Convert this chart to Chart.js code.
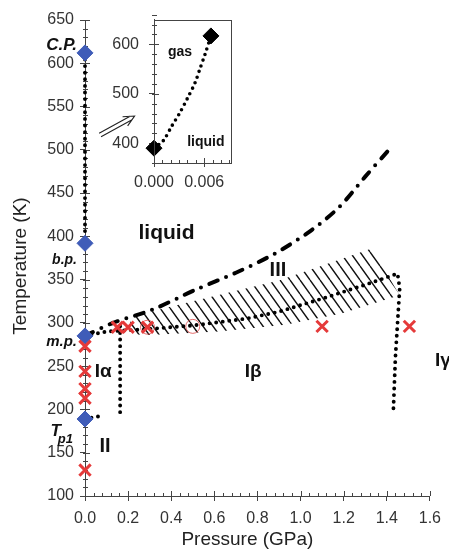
<!DOCTYPE html>
<html>
<head>
<meta charset="utf-8">
<script src="https://cdn.jsdelivr.net/npm/chart.js@4.4.1/dist/chart.umd.min.js"></script>
<style>
html, body { margin: 0; padding: 0; background: #fff; }
#wrap { position: relative; width: 449px; height: 559px; }
#main { position: absolute; left: 0; top: 0; }
#inset { position: absolute; left: 100px; top: 0; }
</style>
</head>
<body>
<div id="wrap">
  <canvas id="main" width="449" height="559"></canvas>
  <canvas id="inset" width="140" height="200"></canvas>
</div>
<script>
// ---- main diagram: pressure (GPa) vs temperature (K) ----
const xTicks = [0, 0.2, 0.4, 0.6, 0.8, 1.0, 1.2, 1.4, 1.6];
const yTicks = [100, 150, 200, 250, 300, 350, 400, 450, 500, 550, 600, 650];

// liquid/gas line along P = 0 (C.P. down to b.p.)
const vapourP = [0, 0];
const vapourT = [612, 392];

// melting curve (dash-dot)
const meltP = [0, 0.13, 0.31, 0.51, 0.70, 0.88, 1.05, 1.18, 1.30, 1.41];
const meltT = [285, 300, 315, 338, 358, 380, 407, 434, 469, 500];

// I-beta / III and I-beta / I-gamma boundary
const betaP = [0, 0.1, 0.3, 0.5, 0.75, 0.9, 1.1, 1.3, 1.45, 1.46, 1.455, 1.44, 1.43];
const betaT = [285, 290, 293, 297, 305, 313, 328, 344, 357, 340, 320, 260, 195];

// I-alpha / I-beta boundary
const alphaP = [0.163, 0.163];
const alphaT = [296, 196];

// short line from Tp1
const twoP = [0, 0.04, 0.09];
const twoT = [189, 191, 193];

// outline of hatched phase III region
const hatchP = [0.21, 0.5, 0.9, 1.33, 1.46, 1.19, 0.93, 0.62, 0.3, 0.21];
const hatchT = [307, 325, 349, 386, 332, 311, 298, 290, 286, 287];

// special points (blue diamonds)
const specialT = [612, 392, 285, 189];

// measured points (red crosses) and circled points
const crossP = [0, 0, 0, 0, 0, 0.15, 0.20, 0.29, 1.1, 1.505];
const crossT = [273, 244, 224, 213, 130, 295, 295, 295, 296, 296];
const ringP = [0.29, 0.5];
const ringT = [295, 296];

// region labels
const phaseNames = ['liquid', 'III', 'I\u03B1', 'I\u03B2', 'I\u03B3', 'II'];
const phaseP = [0.378, 0.895, 0.084, 0.78, 1.66, 0.093];
const phaseT = [404, 361, 243, 243, 256, 157];

// notes left of the T axis
const noteNames = ['C.P.', 'b.p.', 'm.p.', 'T'];
const noteT = [621, 373, 278, 175];

// arrow pointing at the inset
const arrowP = [0.07, 0.23];
const arrowT = [517, 539];

// ---- inset: liquid/gas line near P = 0 ----
const insetXTicks = [0, 0.006];
const insetYTicks = [400, 500, 600];
const insetCurveP = [0, 0.0011, 0.0021, 0.0031, 0.0040, 0.0049, 0.0055, 0.0061, 0.0068];
const insetCurveT = [390, 405, 434, 462, 491, 522, 551, 580, 617];
const insetPointP = [0, 0.0068];
const insetPointT = [390, 617];
const insetNames = ['gas', 'liquid'];
const insetNameP = [0.0031, 0.0062];
const insetNameT = [584, 402];

const FONT = '"Liberation Sans", Arial, Helvetica, sans-serif';
const axisColor = '#444';
const textColor = '#333';
Chart.defaults.font.family = FONT;

const pts = (xs, ys) => xs.map((v, i) => ({x: v, y: ys[i]}));

function hatchPattern(ctx) {
  const w = 10, h = 14;
  const c = document.createElement('canvas');
  c.width = w; c.height = h;
  const g = c.getContext('2d');
  g.strokeStyle = '#111';
  g.lineWidth = 1.4;
  g.beginPath();
  for (const o of [-w, 0, w]) { g.moveTo(o, 0); g.lineTo(o + w, h); }
  g.stroke();
  return ctx.createPattern(c, 'repeat');
}

// minor ticks + inner half of major ticks
function tickMarks(xStep, yStep) {
  return {
    id: 'tickMarks',
    beforeDatasetsDraw(chart) {
      const {ctx, chartArea: a, scales: {x, y}} = chart;
      ctx.save();
      ctx.strokeStyle = axisColor;
      ctx.lineWidth = 1;
      ctx.beginPath();
      const nx = Math.round((x.max - x.min) / xStep);
      for (let i = 0; i <= nx; i++) {
        const px = Math.round(x.getPixelForValue(x.min + i * xStep)) + 0.5;
        ctx.moveTo(px, a.bottom); ctx.lineTo(px, a.bottom - 3);
      }
      const ny = Math.round((y.max - y.min) / yStep);
      for (let i = 0; i <= ny; i++) {
        const py = Math.round(y.getPixelForValue(y.min + i * yStep)) + 0.5;
        ctx.moveTo(a.left - 2, py); ctx.lineTo(a.left + 3, py);
      }
      x.ticks.forEach(t => {
        const px = Math.round(x.getPixelForValue(t.value)) + 0.5;
        ctx.moveTo(px, a.bottom); ctx.lineTo(px, a.bottom - 5);
      });
      y.ticks.forEach(t => {
        const py = Math.round(y.getPixelForValue(t.value)) + 0.5;
        ctx.moveTo(a.left, py); ctx.lineTo(a.left + 5, py);
      });
      ctx.stroke();
      ctx.restore();
    }
  };
}

const mainLabels = {
  id: 'mainLabels',
  afterDatasetsDraw(chart) {
    const {ctx, chartArea: a, scales: {x, y}} = chart;
    ctx.save();
    ctx.fillStyle = '#111';
    ctx.textAlign = 'center';
    ctx.textBaseline = 'middle';
    const sizes = {'liquid': 21, 'III': 20, 'II': 20};
    phaseNames.forEach((t, i) => {
      ctx.font = 'bold ' + (sizes[t] || 19) + 'px ' + FONT;
      ctx.fillText(t, x.getPixelForValue(phaseP[i]), y.getPixelForValue(phaseT[i]));
    });

    ctx.textAlign = 'right';
    const nx = x.getPixelForValue(0) - 8;
    const nsize = {'C.P.': 17, 'b.p.': 14, 'm.p.': 15};
    noteNames.forEach((t, i) => {
      const py = y.getPixelForValue(noteT[i]);
      if (t === 'T') {
        ctx.font = 'italic bold 13px ' + FONT;
        ctx.fillText('p1', nx - 4, py + 8);
        const w = ctx.measureText('p1').width;
        ctx.font = 'italic bold 17px ' + FONT;
        ctx.fillText('T', nx - 4 - w + 3, py);
      } else {
        ctx.font = 'italic bold ' + nsize[t] + 'px ' + FONT;
        ctx.fillText(t, nx, py);
      }
    });

    // double arrow towards the inset
    const x0 = x.getPixelForValue(arrowP[0]), y0 = y.getPixelForValue(arrowT[0]);
    const x1 = x.getPixelForValue(arrowP[1]), y1 = y.getPixelForValue(arrowT[1]);
    const ang = Math.atan2(y1 - y0, x1 - x0);
    const c = Math.cos(ang), s = Math.sin(ang);
    ctx.strokeStyle = '#222';
    ctx.lineWidth = 1.1;
    ctx.beginPath();
    for (const k of [-2, 2]) {
      ctx.moveTo(x0 - s * k, y0 + c * k);
      ctx.lineTo(x1 - c * 4 - s * k, y1 - s * 4 + c * k);
    }
    ctx.moveTo(x1 - 12 * Math.cos(ang - 0.45), y1 - 12 * Math.sin(ang - 0.45));
    ctx.lineTo(x1, y1);
    ctx.lineTo(x1 - 12 * Math.cos(ang + 0.45), y1 - 12 * Math.sin(ang + 0.45));
    ctx.stroke();

    // axis titles
    ctx.fillStyle = '#222';
    ctx.font = '19px ' + FONT;
    ctx.textAlign = 'center';
    ctx.fillText('Pressure (GPa)', (a.left + a.right) / 2 - 10, chart.height - 19);
    ctx.translate(21, (a.top + a.bottom) / 2 + 8);
    ctx.rotate(-Math.PI / 2);
    ctx.fillText('Temperature (K)', 0, 0);
    ctx.restore();
  }
};

const mainCtx = document.getElementById('main').getContext('2d');
const dotted = {showLine: true, borderColor: '#000', borderWidth: 3.9, borderDash: [0, 6.6],
  borderCapStyle: 'round', pointRadius: 0, clip: false};

new Chart(mainCtx, {
  type: 'scatter',
  data: {
    datasets: [
      { data: pts(crossP, crossT), pointStyle: 'crossRot', pointRadius: 8, borderColor: '#e53a3a',
        pointBorderWidth: 3, backgroundColor: '#e53a3a', clip: false },
      { data: pts(ringP, ringT), pointStyle: 'circle', pointRadius: 7, borderColor: 'rgba(220,60,60,0.75)',
        pointBorderWidth: 1, backgroundColor: 'transparent', clip: false },
      { data: pts(specialT.map(() => 0), specialT), pointStyle: 'rectRot', pointRadius: 8,
        backgroundColor: '#3f5cb8', borderColor: '#3f5cb8', clip: false },
      Object.assign({ data: pts(vapourP, vapourT) }, dotted),
      Object.assign({ data: pts(betaP, betaT) }, dotted),
      Object.assign({ data: pts(alphaP, alphaT) }, dotted),
      Object.assign({ data: pts(twoP, twoT) }, dotted),
      { data: pts(meltP, meltT), showLine: true, borderColor: '#000', borderWidth: 4,
        borderDash: [9, 9, 0, 9], borderCapStyle: 'round', tension: 0.3, pointRadius: 0, clip: false },
      { data: pts(hatchP, hatchT), showLine: true, fill: 'shape', borderWidth: 0,
        borderColor: 'transparent', backgroundColor: hatchPattern(mainCtx), pointRadius: 0 }
    ]
  },
  options: {
    responsive: false,
    animation: false,
    events: [],
    layout: { padding: { top: 20, right: 19, left: 0, bottom: 0 } },
    plugins: { legend: { display: false }, tooltip: { enabled: false } },
    scales: {
      x: {
        type: 'linear', min: 0, max: 1.6,
        afterBuildTicks: s => { s.ticks = xTicks.map(v => ({value: v})); },
        afterFit: s => { s.height = 63; },
        ticks: { callback: v => v.toFixed(1), autoSkip: false, maxRotation: 0, padding: 8,
          color: textColor, font: { size: 16 } },
        grid: { drawOnChartArea: false, tickLength: 5, color: axisColor },
        border: { color: axisColor }
      },
      y: {
        type: 'linear', min: 100, max: 650,
        afterBuildTicks: s => { s.ticks = yTicks.map(v => ({value: v})); },
        afterFit: s => { s.width = 85; },
        ticks: { autoSkip: false, padding: 6, color: textColor, font: { size: 16 } },
        grid: { drawOnChartArea: false, tickLength: 5, color: axisColor },
        border: { color: axisColor }
      }
    }
  },
  plugins: [tickMarks(0.04, 10), mainLabels]
});

// ---- inset ----
const insetExtras = {
  id: 'insetExtras',
  afterDatasetsDraw(chart) {
    const {ctx, chartArea: a, scales: {x, y}} = chart;
    ctx.save();
    ctx.strokeStyle = axisColor;
    ctx.lineWidth = 1;
    ctx.strokeRect(Math.round(a.left) + 0.5, Math.round(a.top) + 0.5,
      Math.round(a.right - a.left), Math.round(a.bottom - a.top));
    ctx.fillStyle = '#111';
    ctx.font = 'bold 14px ' + FONT;
    ctx.textAlign = 'center';
    ctx.textBaseline = 'middle';
    insetNames.forEach((t, i) => {
      ctx.fillText(t, x.getPixelForValue(insetNameP[i]), y.getPixelForValue(insetNameT[i]));
    });
    ctx.restore();
  }
};

new Chart(document.getElementById('inset').getContext('2d'), {
  type: 'scatter',
  data: {
    datasets: [
      { data: pts(insetPointP, insetPointT), pointStyle: 'rectRot', pointRadius: 8,
        backgroundColor: '#000', borderColor: '#000', clip: false },
      Object.assign({}, dotted, { data: pts(insetCurveP, insetCurveT), borderWidth: 3.6,
        borderDash: [0, 6], tension: 0.3 })
    ]
  },
  options: {
    responsive: false,
    animation: false,
    events: [],
    layout: { padding: { top: 15, right: 8, left: 0, bottom: 0 } },
    plugins: { legend: { display: false }, tooltip: { enabled: false } },
    scales: {
      x: {
        type: 'linear', min: 0, max: 0.0092,
        afterBuildTicks: s => { s.ticks = insetXTicks.map(v => ({value: v})); },
        afterFit: s => { s.height = 37; },
        ticks: { callback: v => v.toFixed(3), autoSkip: false, maxRotation: 0, padding: 6,
          color: textColor, font: { size: 16 } },
        grid: { drawOnChartArea: false, tickLength: 4, color: axisColor },
        border: { color: axisColor }
      },
      y: {
        type: 'linear', min: 360, max: 650,
        afterBuildTicks: s => { s.ticks = insetYTicks.map(v => ({value: v})); },
        afterFit: s => { s.width = 54; },
        ticks: { autoSkip: false, padding: 10, color: textColor, font: { size: 16 } },
        grid: { drawOnChartArea: false, tickLength: 5, color: axisColor },
        border: { color: axisColor }
      }
    }
  },
  plugins: [tickMarks(0.001, 20), insetExtras]
});
</script>
</body>
</html>
